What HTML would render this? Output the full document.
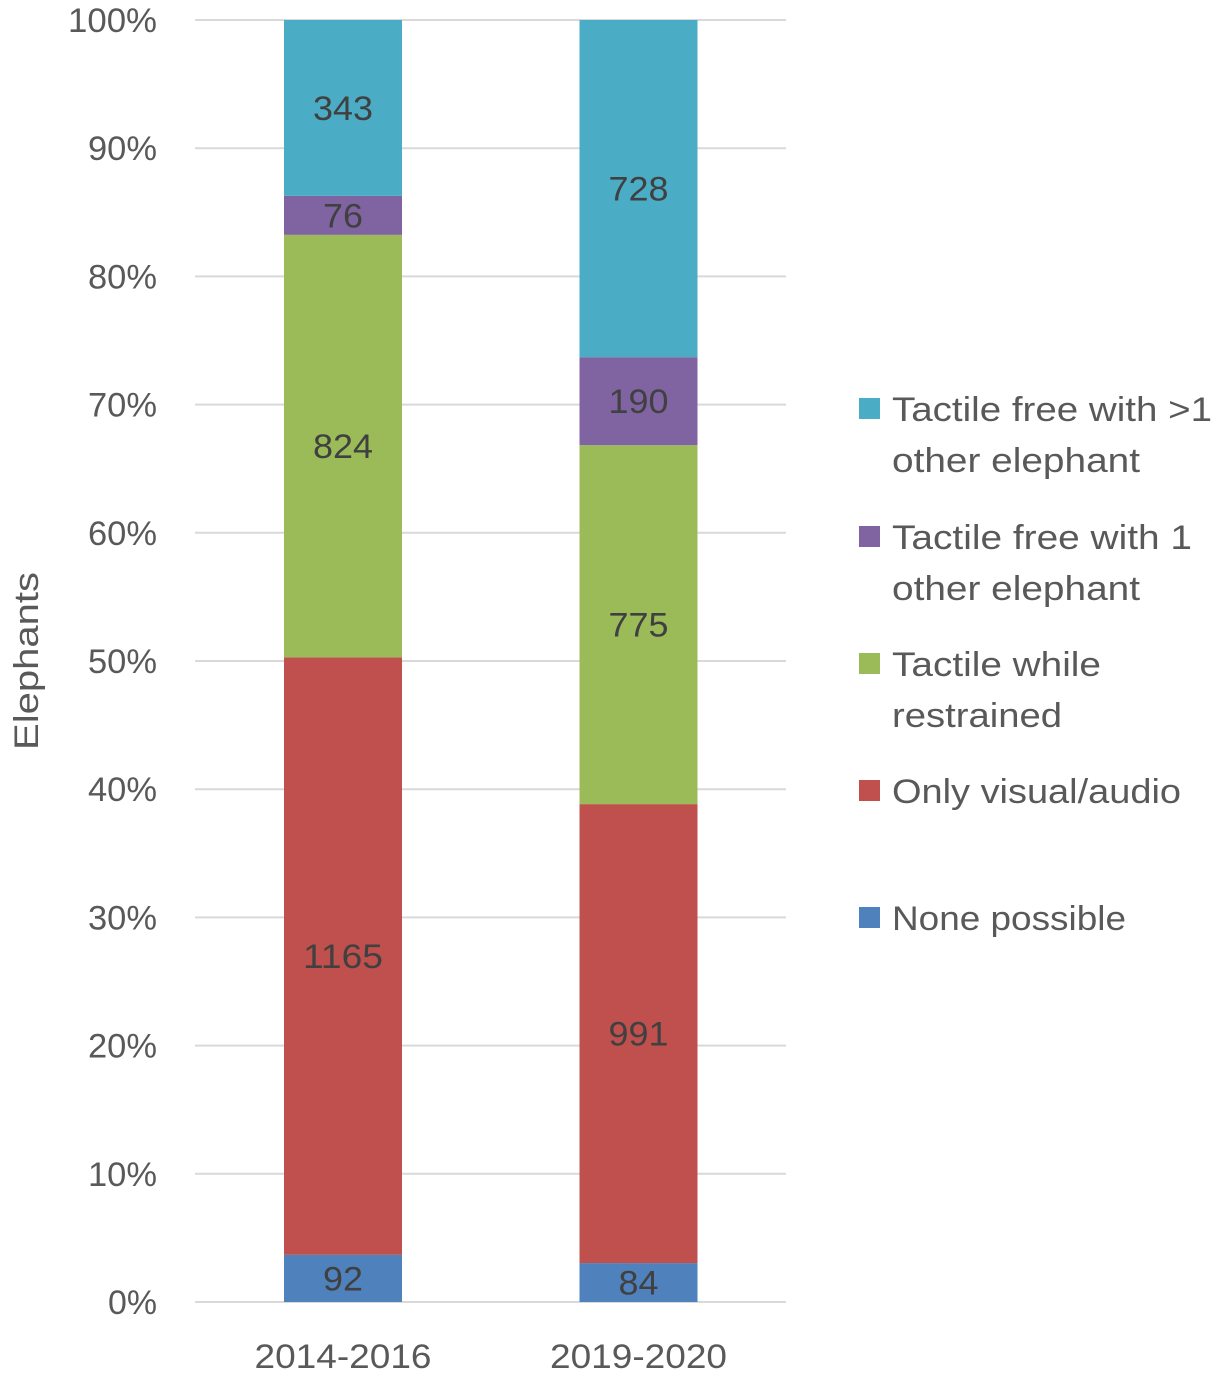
<!DOCTYPE html>
<html><head><meta charset="utf-8"><style>
body{margin:0;background:#fff}
svg{display:block;font-family:"Liberation Sans",sans-serif}
</style></head><body>
<svg id="chart" width="1216" height="1376"></svg>
<script>
const categories=["2014-2016","2019-2020"];
const seriesNames=["None possible","Only visual/audio","Tactile while restrained","Tactile free with 1 other elephant","Tactile free with >1 other elephant"];
const noneVals=[92,84];
const visualVals=[1165,991];
const restrainedVals=[824,775];
const free1Vals=[76,190];
const freeManyVals=[343,728];
const yTicks=[0,10,20,30,40,50,60,70,80,90,100];
const colors=["#4f81bd","#c0504d","#9bbb59","#8064a2","#4bacc6"];
const series=[noneVals,visualVals,restrainedVals,free1Vals,freeManyVals];
const NS="http://www.w3.org/2000/svg";
const svg=document.getElementById('chart');
function mk(t,a,p){const e=document.createElementNS(NS,t);for(const k in a)e.setAttribute(k,a[k]);(p||svg).appendChild(e);return e;}
function tw(s){let w=0;for(const ch of String(s)){w+=ch==='%'?29:ch==='-'?12:20;}return w;}
const y0=1302,y1=20,xL=195,xR=786;
const yPos=p=>y0-(p/100)*(y0-y1);
const xCenter=i=>343+i*295.5;
const barW=118;
yTicks.forEach(t=>{
 const l=mk('line',{x1:xL,x2:xR,y1:yPos(t),y2:yPos(t),stroke:'#d9d9d9','stroke-width':2});
 
 
 const s=t+'%';
 const tx=mk('text',{x:157,y:yPos(t)+12,'text-anchor':'end','font-size':34,fill:'#595959',textLength:tw(s),lengthAdjust:'spacingAndGlyphs'});
 tx.textContent=s;
 
 
});
categories.forEach((c,i)=>{
 const total=series.reduce((s,a)=>s+a[i],0);
 let cum=0;
 series.forEach((a,k)=>{
  const v=a[i];const yb=yPos(cum/total*100);cum+=v;const yt=yPos(cum/total*100);
  const r=mk('rect',{x:xCenter(i)-barW/2,y:yt,width:barW,height:yb-yt,fill:colors[k]});
  
  
  const tx=mk('text',{x:xCenter(i),y:(yt+yb)/2+12,'text-anchor':'middle','font-size':34,fill:'#404040',textLength:tw(v),lengthAdjust:'spacingAndGlyphs'});
  tx.textContent=v;
  
  
 });
 const xl=mk('text',{x:xCenter(i),y:1368,'text-anchor':'middle','font-size':34,fill:'#595959',textLength:177,lengthAdjust:'spacingAndGlyphs'});
 xl.textContent=c;
 
 
});
const yt=mk('text',{x:0,y:0,transform:'translate(38,661) rotate(-90)','text-anchor':'middle','font-size':34,fill:'#595959',textLength:178,lengthAdjust:'spacingAndGlyphs'});
yt.textContent='Elephants';


const legend=[
 {k:4,y:409,lines:["Tactile free with >1","other elephant"]},
 {k:3,y:537,lines:["Tactile free with 1","other elephant"]},
 {k:2,y:664,lines:["Tactile while","restrained"]},
 {k:1,y:791,lines:["Only visual/audio"]},
 {k:0,y:918,lines:["None possible"]}];
const lens={"Tactile free with >1":320,"other elephant":248,"Tactile free with 1":300,"Tactile while":209,"restrained":170,"Only visual/audio":289,"None possible":234};
legend.forEach(e=>{
 const g=mk('g',{});
 
 
 mk('rect',{x:859,y:e.y-11,width:21,height:21,fill:colors[e.k]},g);
 e.lines.forEach((ln,j)=>{
  const t=mk('text',{x:892,y:e.y+12+j*51,'font-size':34,fill:'#595959',textLength:lens[ln],lengthAdjust:'spacingAndGlyphs'},g);
  t.textContent=ln;
 });
});
</script>
</body></html>
